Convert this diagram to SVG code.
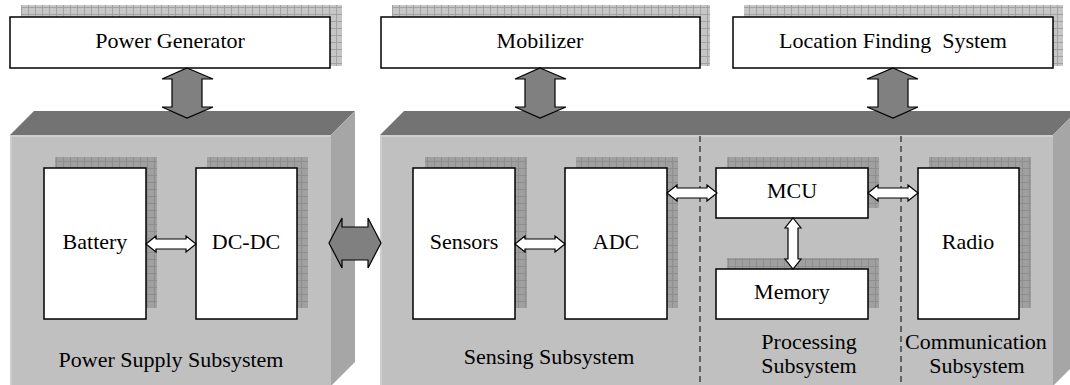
<svg xmlns="http://www.w3.org/2000/svg" width="1070" height="385" viewBox="0 0 1070 385">
<defs>
<pattern id="gridLight" width="7" height="7" patternUnits="userSpaceOnUse">
<rect width="7" height="7" fill="#c6c6c6"/>
<path d="M0 0.5H7M0.5 0V7" stroke="#a2a2a2" stroke-width="1"/>
</pattern>
<pattern id="gridDark" width="7" height="7" patternUnits="userSpaceOnUse">
<rect width="7" height="7" fill="#a0a0a0"/>
<path d="M0 0.5H7M0.5 0V7" stroke="#8e8e8e" stroke-width="1"/>
</pattern>
<style>
.box{fill:#fff;stroke:#000;stroke-width:1.5}
.sh1{fill:url(#gridLight)}
.sh2{fill:url(#gridDark)}
.front{fill:#c0c0c0}
.bevel{fill:none;stroke:#d2d2d2;stroke-width:1.5}
.top{fill:#737373}
.side{fill:#a6a6a6}
.t{font-family:"Liberation Serif","Times New Roman",serif;font-size:22px;fill:#000;text-anchor:middle}
.garrow{fill:#808080;stroke:#000;stroke-width:1.2;stroke-linejoin:miter}
.warrow{fill:#fff;stroke:#000;stroke-width:1.2}
.dash{stroke:#000;stroke-width:1;stroke-dasharray:6 4;fill:none}
</style>
</defs>
<rect width="1070" height="385" fill="#fff"/>

<!-- slabs -->
<g id="slab-power">
<polygon class="top" points="10,135 34,111 355,111 331,135"/>
<polygon class="side" points="331,135 355,111 355,362 331,386"/>
<rect class="front" x="10" y="135" width="321" height="252"/>
<path class="bevel" d="M11 387V136H331"/>
<text class="t" x="171" y="367">Power Supply Subsystem</text>
</g>
<g id="slab-main">
<polygon class="top" points="380,135 404,111 1077,111 1053,135"/>
<polygon class="side" points="1053,135 1077,111 1077,362 1053,386"/>
<rect class="front" x="380" y="135" width="673" height="252"/>
<path class="bevel" d="M381 387V136H1053"/>
<line class="dash" x1="700" y1="136" x2="700" y2="385"/>
<line class="dash" x1="901" y1="136" x2="901" y2="385"/>
<text class="t" x="549" y="364">Sensing Subsystem</text>
<text class="t" x="809" y="349">Processing</text>
<text class="t" x="809" y="373">Subsystem</text>
<text class="t" x="976" y="349">Communication</text>
<text class="t" x="977" y="373">Subsystem</text>
</g>

<!-- top nodes -->
<g id="power-generator">
<rect class="sh1" x="21" y="5" width="321" height="61"/>
<rect class="box" x="10" y="17" width="320" height="51"/>
<text class="t" x="170" y="48">Power Generator</text>
</g>
<g id="mobilizer">
<rect class="sh1" x="392" y="5" width="318" height="61"/>
<rect class="box" x="381" y="17" width="319" height="51"/>
<text class="t" x="540" y="48">Mobilizer</text>
</g>
<g id="location-finding">
<rect class="sh1" x="744" y="5" width="319" height="61"/>
<rect class="box" x="733" y="17" width="320" height="51"/>
<text class="t" x="893" y="48" xml:space="preserve">Location Finding  System</text>
</g>

<!-- inner nodes -->
<g id="battery">
<rect class="sh2" x="55" y="157" width="102" height="151"/>
<rect class="box" x="44" y="168" width="102" height="151"/>
<text class="t" x="95" y="249">Battery</text>
</g>
<g id="dcdc">
<rect class="sh2" x="207" y="157" width="101" height="151"/>
<rect class="box" x="196" y="168" width="101" height="151"/>
<text class="t" x="246" y="249">DC-DC</text>
</g>
<g id="sensors">
<rect class="sh2" x="425" y="157" width="102" height="151"/>
<rect class="box" x="413" y="168" width="102" height="151"/>
<text class="t" x="464" y="249">Sensors</text>
</g>
<g id="adc">
<rect class="sh2" x="576" y="157" width="102" height="151"/>
<rect class="box" x="565" y="168" width="102" height="151"/>
<text class="t" x="616" y="249">ADC</text>
</g>
<g id="mcu">
<rect class="sh2" x="727" y="157" width="152" height="51"/>
<rect class="box" x="716" y="168" width="152" height="50"/>
<text class="t" x="792" y="198">MCU</text>
</g>
<g id="memory">
<rect class="sh2" x="727" y="258" width="152" height="50"/>
<rect class="box" x="716" y="269" width="152" height="50"/>
<text class="t" x="792" y="299">Memory</text>
</g>
<g id="radio">
<rect class="sh2" x="929" y="157" width="102" height="151"/>
<rect class="box" x="918" y="168" width="101" height="151"/>
<text class="t" x="968" y="249">Radio</text>
</g>

<!-- connectors -->
<g id="connectors">
<polygon class="garrow" points="187,68 213,79 202,79 202,107 213,107 187,118 162,107 172,107 172,79 162,79"/>
<polygon class="garrow" points="540,68 566,79 555,79 555,107 566,107 540,118 515,107 525,107 525,79 515,79"/>
<polygon class="garrow" points="893,68 918,79 908,79 908,107 918,107 893,118 867,107 878,107 878,79 867,79"/>
<polygon class="garrow" points="329,243 342,218 342,227 368,227 368,218 381,243 368,268 368,260 342,260 342,268"/>
<polygon class="warrow" points="146,244 156,236 156,239 186,239 186,236 196,244 186,252 186,249 156,249 156,252"/>
<polygon class="warrow" points="515,244 525,236 525,239 555,239 555,236 565,244 555,252 555,249 525,249 525,252"/>
<polygon class="warrow" points="667,193 677,185 677,188 707,188 707,185 717,193 707,201 707,198 677,198 677,201"/>
<polygon class="warrow" points="868,193 878,185 878,188 908,188 908,185 918,193 908,201 908,198 878,198 878,201"/>
<polygon class="warrow" points="793,218 801,228 798,228 798,259 801,259 793,269 785,259 788,259 788,228 785,228"/>
</g>
</svg>
